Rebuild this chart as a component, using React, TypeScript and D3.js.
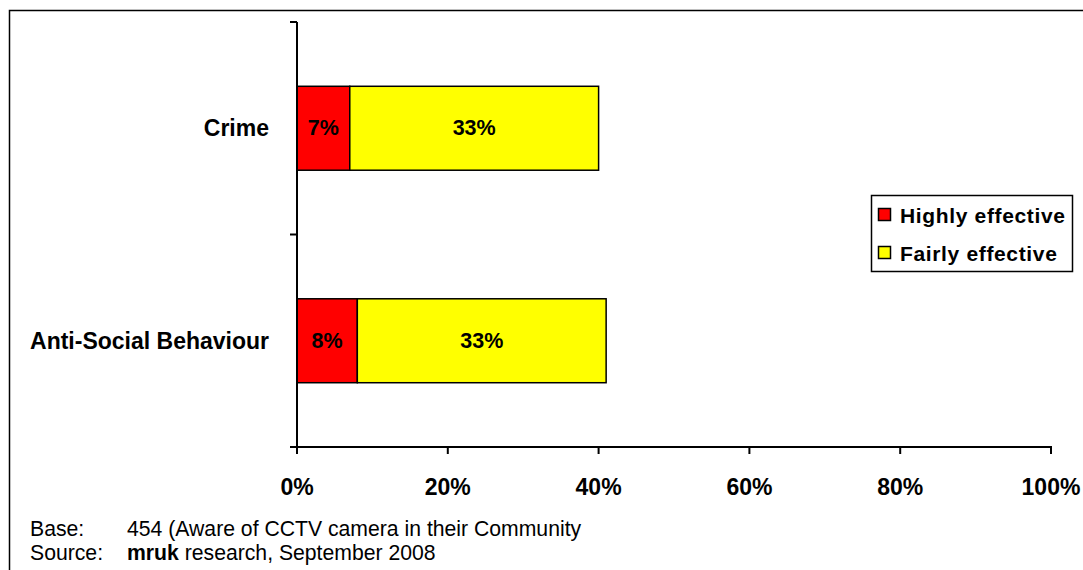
import React from "react";
import * as d3 from "d3";

const categories = ["Crime", "Anti-Social Behaviour"];
const seriesNames = ["Highly effective", "Fairly effective"];
const seriesColors = ["#ff0000", "#ffff00"];
const highly = [7, 8];
const fairly = [33, 33];
const xTicks = [0, 20, 40, 60, 80, 100];

const FONT = "Arial, 'Liberation Sans', sans-serif";

export default function App() {
  const W = 1083, H = 570;
  const x = d3.scaleLinear().domain([0, 100]).range([297, 1051]);
  const y = d3.scaleBand().domain(categories).range([22, 447]).paddingInner(0.605).paddingOuter(0.3025);
  const values = [highly, fairly];
  const stackData = categories.map((c, i) => ({ cat: c, h: highly[i], f: fairly[i] }));
  const stack = d3.stack<any>().keys(["h", "f"])(stackData);
  const sepTicks = [22, ...categories.map((c) => y(c)! - (y.step() * y.paddingInner()) / 2 + y.step()).slice(0, 1), 447];

  return (
    <svg width={W} height={H} style={{ position: "absolute", left: 0, top: 0, background: "#fff" }} fontFamily={FONT}>
      <rect x={9.5} y={10.5} width={1100} height={600} fill="#fff" stroke="#000" strokeWidth={1.5} />
      {/* bars */}
      {stack.map((layer, si) =>
        layer.map((d, ci) => {
          const cat = categories[ci];
          const x0 = x(d[0]);
          const x1 = x(d[1]);
          const yy = y(cat)!;
          return (
            <g key={si + "-" + ci}>
              <rect x={x0} y={yy} width={x1 - x0} height={y.bandwidth()} fill={seriesColors[si]} stroke="#000" strokeWidth={1.5} />
              <text x={(x0 + x1) / 2} y={yy + y.bandwidth() / 2} textAnchor="middle" dominantBaseline="central" fontWeight="bold" fontSize={21.5}>
                {values[si][ci]}%
              </text>
            </g>
          );
        })
      )}
      {/* y axis */}
      <line x1={297} x2={297} y1={22} y2={447} stroke="#000" strokeWidth={2} />
      {sepTicks.map((t, i) => (
        <line key={i} x1={290} x2={297} y1={t} y2={t} stroke="#000" strokeWidth={2} />
      ))}
      {categories.map((c) => (
        <text key={c} x={269} y={y(c)! + y.bandwidth() / 2} textAnchor="end" dominantBaseline="central" fontWeight="bold" fontSize={23}>
          {c}
        </text>
      ))}
      {/* x axis */}
      <line x1={290} x2={1052} y1={447} y2={447} stroke="#000" strokeWidth={2} />
      {xTicks.map((t) => (
        <g key={t}>
          <line x1={x(t)} x2={x(t)} y1={447} y2={454} stroke="#000" strokeWidth={2} />
          <text x={x(t)} y={487} textAnchor="middle" dominantBaseline="central" fontWeight="bold" fontSize={23}>
            {t}%
          </text>
        </g>
      ))}
      {/* legend */}
      <rect x={871.5} y={195.5} width={201} height={76} fill="#fff" stroke="#000" strokeWidth={1.5} />
      {seriesNames.map((n, i) => (
        <g key={n}>
          <rect x={878.5} y={208.5 + i * 38} width={12} height={12} fill={seriesColors[i]} stroke="#000" strokeWidth={1.5} />
          <text x={900} y={223 + i * 38} fontWeight="bold" fontSize={21} letterSpacing={0.65}>
            {n}
          </text>
        </g>
      ))}
      {/* footer */}
      <text x={30} y={528} fontSize={21.2} dominantBaseline="central">Base:</text>
      <text x={127} y={528} fontSize={21.2} dominantBaseline="central">454 (Aware of CCTV camera in their Community</text>
      <text x={30} y={552} fontSize={21.2} dominantBaseline="central">Source:</text>
      <text x={127} y={552} fontSize={21.2} dominantBaseline="central">
        <tspan fontWeight="bold">mruk</tspan> research, September 2008
      </text>
    </svg>
  );
}
